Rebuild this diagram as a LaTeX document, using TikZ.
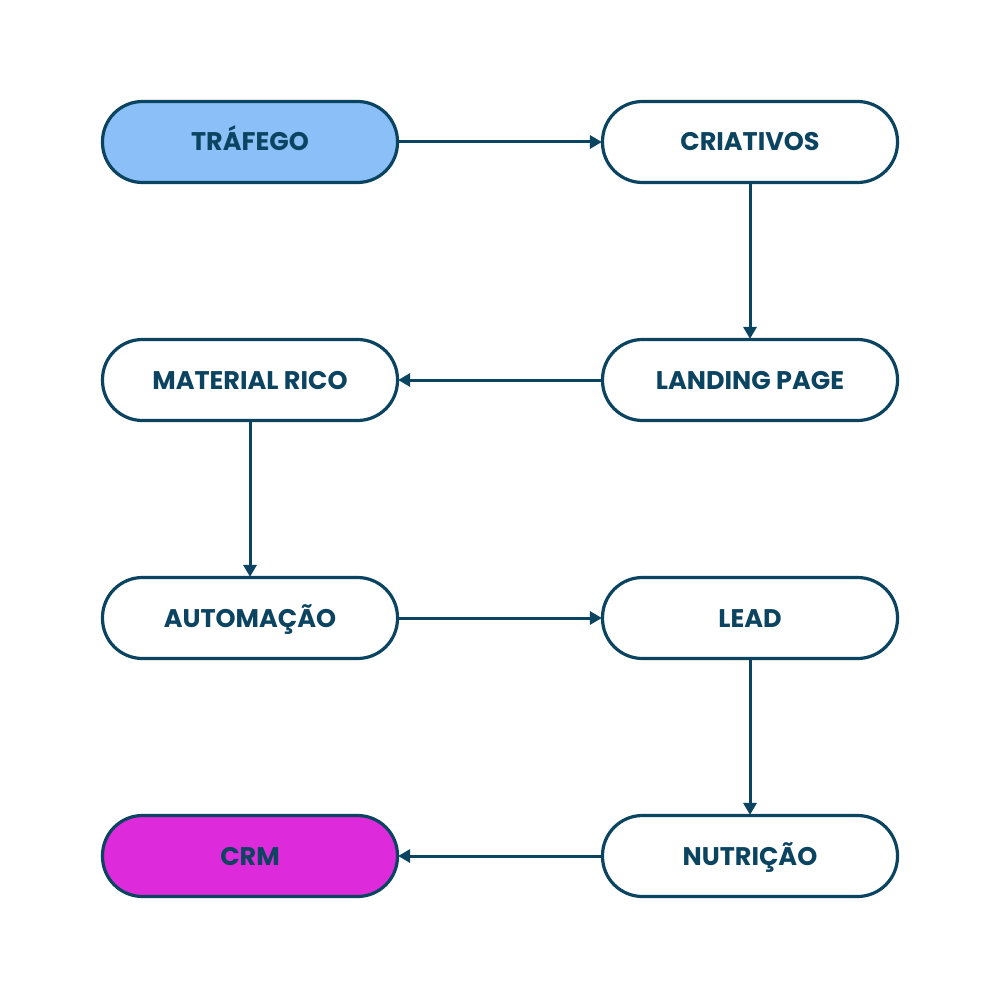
\documentclass[tikz,border=0pt]{standalone}
\usepackage{fontspec}
\setmainfont{Poppins}[UprightFont=* Bold]
\usetikzlibrary{arrows.meta}
\definecolor{edge}{HTML}{0B4461}
\definecolor{blue1}{HTML}{8BBFF8}
\definecolor{mag}{HTML}{DD2BDB}
\begin{document}
\begin{tikzpicture}[x=1pt,y=-1pt,
  box/.style={draw=edge, line width=3.2pt, fill=white, rounded corners=40pt,
    minimum width=295pt, minimum height=81pt, inner sep=0pt,
    text height=18pt, text depth=0pt,
    font=\fontsize{25.5}{28}\selectfont, text=edge},
  conn/.style={draw=edge, line width=3pt, -{Triangle[length=12pt,width=13pt]}, shorten >=-1pt}]
\useasboundingbox[fill=white] (0,0) rectangle (1000,1000);
\node[box, fill=blue1] (t) at (250,142) {TRÁFEGO};
\node[box] (c) at (750,142) {CRIATIVOS};
\node[box] (lp) at (750,380) {LANDING PAGE};
\node[box] (mr) at (250,380) {MATERIAL RICO};
\node[box] (a) at (250,618) {AUTOMAÇÃO};
\node[box] (l) at (750,618) {LEAD};
\node[box] (n) at (750,856) {NUTRIÇÃO};
\node[box, fill=mag] (crm) at (250,856) {CRM};
\draw[conn] (t) -- (c);
\draw[conn] (c) -- (lp);
\draw[conn] (lp) -- (mr);
\draw[conn] (mr) -- (a);
\draw[conn] (a) -- (l);
\draw[conn] (l) -- (n);
\draw[conn] (n) -- (crm);
\end{tikzpicture}
\end{document}
